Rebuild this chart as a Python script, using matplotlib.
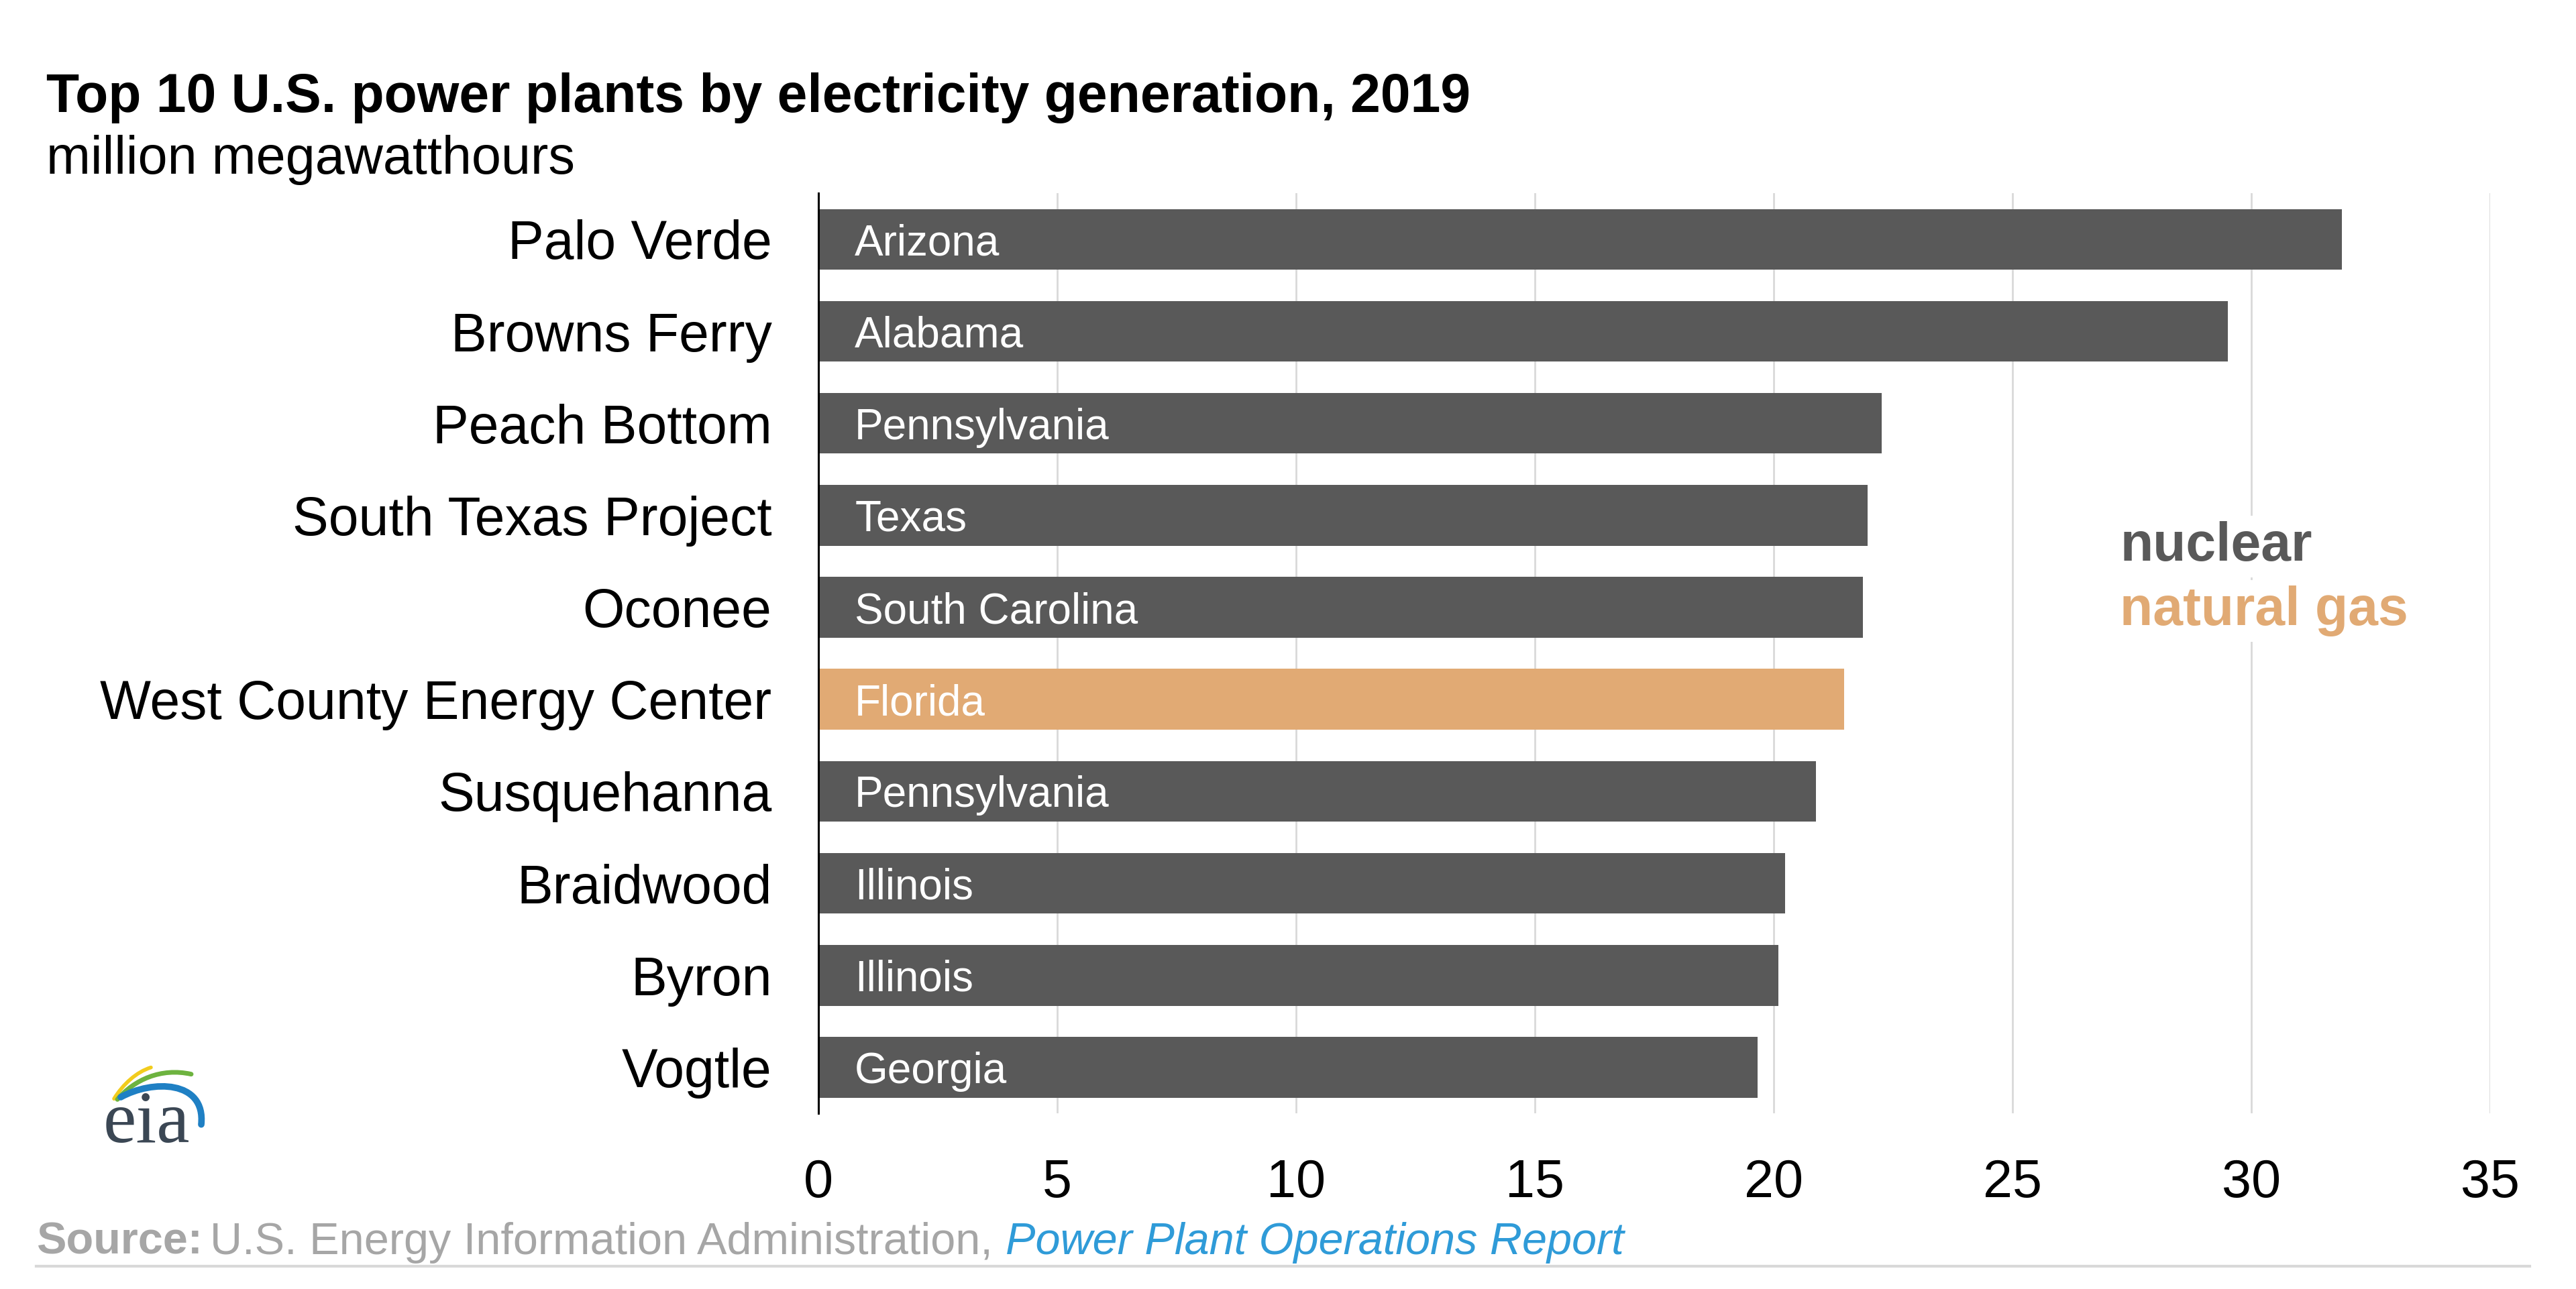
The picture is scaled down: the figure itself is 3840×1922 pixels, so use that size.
import matplotlib
matplotlib.use("Agg")
import matplotlib.pyplot as plt
from matplotlib.path import Path
from matplotlib.patches import PathPatch

# ===== 数据 =====
plants = ["Palo Verde", "Browns Ferry", "Peach Bottom", "South Texas Project", "Oconee",
          "West County Energy Center", "Susquehanna", "Braidwood", "Byron", "Vogtle"]
states = ["Arizona", "Alabama", "Pennsylvania", "Texas", "South Carolina",
          "Florida", "Pennsylvania", "Illinois", "Illinois", "Georgia"]
generation = [31.9, 29.5, 22.26, 21.96, 21.87, 21.47, 20.89, 20.24, 20.10, 19.66]
fuel = ["nuclear", "nuclear", "nuclear", "nuclear", "nuclear",
        "natural gas", "nuclear", "nuclear", "nuclear", "nuclear"]
x_ticks = [0, 5, 10, 15, 20, 25, 30, 35]

COLORS = {"nuclear": "#595959", "natural gas": "#e1aa74"}
FONT = "Liberation Sans"

plt.rcParams["font.family"] = [FONT, "DejaVu Sans"]

fig = plt.figure(figsize=(38.4, 19.22), dpi=100)
ax = fig.add_axes([0.3177, 0.1363, 0.649, 0.7137])

y = list(range(len(plants)))
ax.barh(y, generation, height=0.66, color=[COLORS[f] for f in fuel], zorder=3)

# 柱内州名
for i, s in enumerate(states):
    ax.annotate(s, xy=(0, i), xytext=(39, 0), textcoords="offset points",
                ha="left", va="center_baseline", color="white", fontsize=46,
                zorder=4)

ax.set_xlim(0, 35)
ax.set_ylim(len(plants) - 0.5, -0.5)
ax.set_xticks(x_ticks)
ax.set_xticklabels([str(t) for t in x_ticks])
ax.set_yticks(y)
ax.set_yticklabels(plants)
ax.tick_params(axis="both", length=0, colors="black")
ax.tick_params(axis="x", pad=48, labelsize=57)
ax.tick_params(axis="y", pad=50, labelsize=58)
ax.grid(axis="x", color="#d9d9d9", linewidth=2, zorder=0)
for side in ["top", "right", "bottom"]:
    ax.spines[side].set_visible(False)
ax.spines["left"].set_linewidth(2.2)
ax.spines["left"].set_color("black")
ax.spines["left"].set_zorder(5)

# 图例文字
ax.text(27.25, 3.34, "nuclear", color=COLORS["nuclear"], fontsize=58, fontweight="bold",
        va="center", ha="left", zorder=4,
        bbox=dict(facecolor="white", edgecolor="none", pad=6))
ax.text(27.25, 4.04, "natural gas", color=COLORS["natural gas"], fontsize=58,
        fontweight="bold", va="center", ha="left", zorder=4,
        bbox=dict(facecolor="white", edgecolor="none", pad=6))

# 标题
fig.text(0.018, 0.924, "Top 10 U.S. power plants by electricity generation, 2019",
         fontsize=58, fontweight="bold", va="center", ha="left")
fig.text(0.018, 0.876, "million megawatthours", fontsize=57, va="center", ha="left")

# 来源
renderer = fig.canvas.get_renderer()
t1 = fig.text(0.014, 0.036, "Source:", fontsize=48, fontweight="bold",
              color="#a6a6a6", va="center", ha="left")
bb = t1.get_window_extent(renderer).transformed(fig.transFigure.inverted())
t2 = fig.text(bb.x1 + 0.003, 0.036, "U.S. Energy Information Administration, ",
              fontsize=48, color="#a6a6a6", va="center", ha="left")
bb = t2.get_window_extent(renderer).transformed(fig.transFigure.inverted())
fig.text(bb.x1, 0.036, "Power Plant Operations Report", fontsize=48,
         style="italic", color="#2f9bd8", va="center", ha="left")
fig.add_artist(plt.Line2D([0.014, 0.982], [0.0177, 0.0177], color="#d9d9d9",
                          linewidth=3, transform=fig.transFigure))

# eia logo
lax = fig.add_axes([100 / 3840, 1 - 1740 / 1922, 250 / 3840, 180 / 1922])
lax.set_xlim(0, 750)
lax.set_ylim(540, 0)
lax.axis("off")
arcs = [
    ([(210, 235), (250, 170), (310, 115), (375, 95)], "#f2cc1d", 4),
    ([(225, 238), (300, 150), (420, 95), (555, 125)], "#6db33f", 5),
    ([(240, 228), (380, 150), (620, 150), (600, 350)], "#1f80c4", 7),
]
codes = [Path.MOVETO, Path.CURVE4, Path.CURVE4, Path.CURVE4]
for pts, c, lw in arcs:
    lax.add_patch(PathPatch(Path(pts, codes), facecolor="none", edgecolor=c,
                            linewidth=lw, capstyle="round"))
lax.text(160, 430, "eia", family=["Liberation Serif", "DejaVu Serif"], fontsize=80,
         color="#3b4754", ha="left", va="baseline")

fig.savefig("out.png", dpi=100)
